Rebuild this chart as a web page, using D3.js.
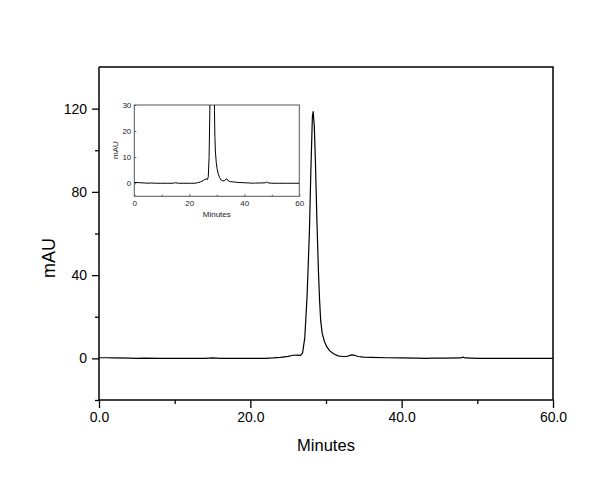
<!DOCTYPE html>
<html>
<head>
<meta charset="utf-8">
<script src="https://cdn.jsdelivr.net/npm/d3@7"></script>
<style>
  html, body { margin: 0; padding: 0; background: #fff; }
  svg { display: block; }
  text { font-family: "Liberation Sans", Arial, sans-serif; fill: #000; }
</style>
</head>
<body>
<svg id="chart" width="603" height="490"></svg>
<script>
// ---- data ----
const times = [0, 1, 2, 4, 5, 6, 8, 10, 12, 14, 15, 16, 18, 20, 22, 23, 24, 25, 25.6, 26.2, 26.6, 26.9,
  27.2, 27.5, 27.8, 28.0, 28.2, 28.3, 28.45, 28.6, 28.8, 29.0, 29.15, 29.3, 29.5, 29.8, 30.1, 30.5, 31.0,
  31.6, 32.2, 32.8, 33.4, 33.7, 34.2, 35, 36, 38, 40, 42, 43.3, 44, 46, 47.8, 48.1, 48.4, 50, 52, 55, 58, 60];
const mAU = [0.3, 0.3, 0.2, 0.1, 0.0, 0.1, 0.0, 0.0, 0.0, 0.0, 0.2, 0.0, 0.0, 0.0, 0.0, 0.2, 0.5, 1.0, 1.5, 1.6, 1.4, 2.5,
  10, 30, 60, 90, 116, 118.6, 112, 95, 66, 42, 28, 18, 12, 8, 5.6, 3.6, 2.2,
  1.2, 0.9, 1.0, 1.7, 1.6, 0.9, 0.6, 0.5, 0.3, 0.2, 0.1, 0.0, 0.1, 0.1, 0.2, 0.6, 0.2, 0.0, 0.0, 0.0, 0.0, 0.0];

const xMajorTicks = [0, 20, 40, 60];
const xMinorTicks = [10, 30, 50];
const yMajorTicks = [0, 40, 80, 120];
const yMinorTicks = [-20, 20, 60, 100];
const insetXTicks = [0, 20, 40, 60];
const insetXMinor = [10, 30, 50];
const insetYTicks = [0, 10, 20, 30];

const xLabel = "Minutes";
const yLabel = "mAU";

const points = times.map((t, i) => ({ t, v: mAU[i] }));

const svg = d3.select("#chart");
svg.append("rect").attr("width", 603).attr("height", 490).attr("fill", "#fff");

// ---- main chart ----
const x = d3.scaleLinear().domain([0, 60]).range([99, 553]);
const y = d3.scaleLinear().domain([-20, 140]).range([400, 67]);

const main = svg.append("g");

// frame top/right
main.append("path")
  .attr("d", `M${x(0)},${y(140)}H${x(60)}V${y(-20)}`)
  .attr("fill", "none").attr("stroke", "#000").attr("stroke-width", 1.5);

const xAxis = main.append("g").attr("transform", `translate(0,${y(-20)})`)
  .call(d3.axisBottom(x).tickValues(xMajorTicks).tickFormat(d3.format(".1f")).tickSize(8).tickPadding(4));
main.append("g").attr("transform", `translate(0,${y(-20)})`)
  .call(d3.axisBottom(x).tickValues(xMinorTicks).tickFormat("").tickSize(4))
  .select(".domain").remove();

const yAxis = main.append("g").attr("transform", `translate(${x(0)},0)`)
  .call(d3.axisLeft(y).tickValues(yMajorTicks).tickSize(7).tickPadding(5));
main.append("g").attr("transform", `translate(${x(0)},0)`)
  .call(d3.axisLeft(y).tickValues(yMinorTicks).tickFormat("").tickSize(4))
  .select(".domain").remove();

main.selectAll(".domain").attr("stroke-width", 1.5);
xAxis.select(".domain").attr("d", `M${x(0)},0H${x(60)}`);
yAxis.select(".domain").attr("d", `M0,${y(-20)}V${y(140)}`);
main.selectAll(".tick line").attr("stroke-width", 1.3);
main.selectAll(".tick text").style("font-size", "14px").style("font-family", "'Liberation Sans', Arial, sans-serif");

main.append("text").attr("x", 326).attr("y", 451).attr("text-anchor", "middle")
  .style("font-size", "16.5px").text(xLabel);
main.append("text").attr("transform", "translate(55,258) rotate(-90)").attr("text-anchor", "middle")
  .style("font-size", "18px").text(yLabel);

const line = d3.line().x(d => x(d.t)).y(d => y(d.v));
main.append("path").datum(points).attr("d", line)
  .attr("fill", "none").attr("stroke", "#000").attr("stroke-width", 1.2).attr("stroke-linejoin", "round");

// ---- inset ----
const ix = d3.scaleLinear().domain([0, 60]).range([134.3, 299.3]);
const iy = d3.scaleLinear().domain([-5, 30]).range([196.3, 105]);
const inset = svg.append("g");

inset.append("clipPath").attr("id", "insetClip").append("rect")
  .attr("x", ix(0)).attr("y", iy(30)).attr("width", ix(60) - ix(0)).attr("height", iy(-5) - iy(30));

inset.append("rect").attr("x", ix(0)).attr("y", iy(30)).attr("width", ix(60) - ix(0)).attr("height", iy(-5) - iy(30))
  .attr("fill", "none").attr("stroke", "#555").attr("stroke-width", 1);

inset.append("g").attr("transform", `translate(0,${iy(-5)})`)
  .call(d3.axisBottom(ix).tickValues(insetXTicks).tickSize(-2).tickPadding(4));
inset.append("g").attr("transform", `translate(0,${iy(-5)})`)
  .call(d3.axisBottom(ix).tickValues(insetXMinor).tickFormat("").tickSize(-1.5));
inset.append("g").attr("transform", `translate(${ix(0)},0)`)
  .call(d3.axisLeft(iy).tickValues(insetYTicks).tickSize(-2).tickPadding(3));
inset.selectAll(".domain").remove();
inset.selectAll(".tick line").attr("stroke", "#555");
inset.selectAll(".tick text").style("font-size", "8px").style("fill", "#222")
  .style("font-family", "'Liberation Sans', Arial, sans-serif");

inset.append("text").attr("x", 216.8).attr("y", 217).attr("text-anchor", "middle")
  .style("font-size", "8px").style("fill", "#222").text(xLabel);
inset.append("text").attr("transform", "translate(118,150) rotate(-90)").attr("text-anchor", "middle")
  .style("font-size", "8px").style("fill", "#222").text(yLabel);

const iline = d3.line().x(d => ix(d.t)).y(d => iy(d.v));
inset.append("path").datum(points).attr("d", iline).attr("clip-path", "url(#insetClip)")
  .attr("fill", "none").attr("stroke", "#000").attr("stroke-width", 1).attr("stroke-linejoin", "round");
</script>
</body>
</html>
